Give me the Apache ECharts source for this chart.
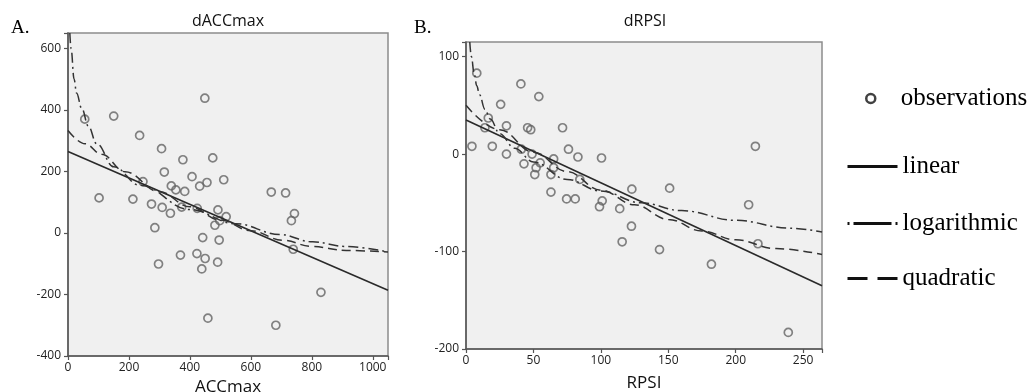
<!DOCTYPE html>
<html><head><meta charset="utf-8">
<script src="https://cdn.jsdelivr.net/npm/echarts@6/dist/echarts.min.js"></script>
<style>html,body{margin:0;padding:0;background:#fff}#c{width:1029px;height:392px}</style>
</head><body><div id="c"></div><script>
// ---- Data ----
const panelTitles = ['dACCmax', 'dRPSI'];
const panelLetters = ['A.', 'B.'];
const axisNames = ['ACCmax', 'RPSI'];
const legendNames = ['observations', 'linear', 'logarithmic', 'quadratic'];

const obsA = [[55,370],[150,380],[235,317],[307,274],[449,438],[377,238],[475,244],[316,198],[407,183],[511,173],
  [456,164],[432,152],[339,153],[354,140],[383,135],[246,167],[667,133],[714,130],[102,114],[213,110],
  [274,94],[309,83],[336,64],[373,84],[424,80],[492,75],[519,53],[482,25],[498,40],[743,63],
  [733,40],[285,17],[442,-15],[496,-23],[297,-101],[369,-72],[423,-67],[450,-83],[439,-117],[491,-95],
  [459,-277],[682,-300],[830,-193],[739,-53]];
const linearA = [[0,265],[1050,-186]];
const logA = [[6,650],[10,600],[20,500],[28,455],[45,405],[67,347],[94,290],[150,215],[236,155],[400,76],[550,30],[695,-5],[803,-29],[913,-44],[1050,-62]];
const quadA = [[0,333],[56,290],[110,256],[187,199],[300,134],[400,85],[500,42],[600,7],[706,-24],[800,-44],[913,-57],[1050,-62]];

const obsB = [[8,83],[4.4,8],[19.5,8],[30,0],[14,27],[16.5,37],[25.7,51],[30,29],[40.7,72],[54,59],
  [45.7,27],[48,25],[71.6,27],[41,5],[76,5],[83,-3],[100.5,-4],[49,0],[65,-5],[43,-10],
  [55,-9],[52,-14],[51,-21],[65,-14],[63,-21],[84.4,-26],[123,-36],[151,-35],[214.6,8],[63,-39],
  [74.6,-46],[81,-46],[101,-48],[99,-54],[114,-56],[122.7,-74],[115.8,-90],[143.5,-98],[182,-113],[209.6,-52],
  [216.5,-92],[239,-183]];
const linearB = [[0,35],[264,-135]];
const logB = [[2.8,115],[4,100],[6,83],[8,70],[10,61],[14,46],[18,36],[25,21],[36,6],[50,-8],[75,-26],[100,-38],[130,-50],[160,-58],[200,-68],[240,-76],[264,-80]];
const quadB = [[0,50],[25,25],[50,2],[75,-18],[100,-37],[125,-52],[150,-67],[175,-79],[200,-88],[230,-97],[264,-103]];

const xTicks = [{min:0,max:1050,interval:200},{min:0,max:264,interval:50}];
const yTicks = [{min:-400,max:650,interval:200},{min:-200,max:115,interval:100}];

// ---- Chart ----
const chart = echarts.init(document.getElementById('c'), null, {renderer:'canvas'});
const sans = 'Open Sans';
const serif = 'Liberation Serif';
const grids = [
  {left:68, top:33, width:320, height:323},
  {left:466, top:42, width:356, height:307}
];
const nameGaps = [20, 26];

function axisCommon(t) {
  return {
    type:'value', min:t.min, max:t.max, interval:t.interval,
    axisLine:{show:true, onZero:false, lineStyle:{color:'#555', width:1.5}},
    axisTick:{show:true, length:4, lineStyle:{color:'#555', width:1.2}},
    splitLine:{show:false},
    axisLabel:{color:'#222', fontFamily:sans, fontSize:12,
      formatter: v => (Math.abs((v - t.min) % t.interval) < 1e-6 ? String(v) : '')}
  };
}

const xAxis = xTicks.map((t,i) => Object.assign(axisCommon(t), {
  gridIndex:i, name:axisNames[i], nameLocation:'middle', nameGap:nameGaps[i],
  nameTextStyle:{fontFamily:sans, fontSize:17, color:'#111'},
  axisLabel:Object.assign(axisCommon(t).axisLabel, {margin:6})
}));
const yAxis = yTicks.map((t,i) => Object.assign(axisCommon(t), {
  gridIndex:i, axisLabel:Object.assign(axisCommon(t).axisLabel, {margin:7})
}));

function panelSeries(i, obs, lin, log, quad) {
  return [
    {type:'scatter', name:legendNames[0], xAxisIndex:i, yAxisIndex:i, data:obs,
      symbol:'circle', symbolSize:8, z:2,
      itemStyle:{color:'rgba(0,0,0,0)', borderColor:'#646464', borderWidth:1.7}},
    {type:'line', name:legendNames[1], xAxisIndex:i, yAxisIndex:i, data:lin, symbol:'none', z:3,
      lineStyle:{color:'#2a2a2a', width:1.6}},
    {type:'line', name:legendNames[2], xAxisIndex:i, yAxisIndex:i, data:log, symbol:'none', z:3,
      smooth:0.4, smoothMonotone:'x', lineStyle:{color:'#333', width:1.5, type:[10,4,2,4]}},
    {type:'line', name:legendNames[3], xAxisIndex:i, yAxisIndex:i, data:quad, symbol:'none', z:3,
      smooth:0.4, smoothMonotone:'x', lineStyle:{color:'#333', width:1.5, type:[9,5]}}
  ];
}

const legendTops = [86, 154, 211, 266];
const legendLefts = [865, 846, 846, 846];
const legendDash = [null, 'solid', [2,4,38,4,2], [20,10]];
const legends = legendNames.map((n,i) => ({
  orient:'vertical', left:legendLefts[i], top:legendTops[i], padding:0,
  itemWidth:50, itemHeight: i === 0 ? 9 : 14, selectedMode:false,
  textStyle:{fontFamily:serif, fontSize:25, color:'#000'},
  data:[ i === 0
    ? {name:n, icon:'circle', itemStyle:{color:'#fff', borderColor:'#111', borderWidth:2.5}}
    : {name:n, itemStyle:{color:'rgba(0,0,0,0)', borderWidth:0},
       lineStyle:{color:'#111', width:3, type:legendDash[i]}} ]
}));

const option = {
  backgroundColor:'#fff',
  animation:false,
  title:[
    {text:panelTitles[0], left:228, top:13, textAlign:'center', padding:0,
      textStyle:{fontFamily:sans, fontSize:16, fontWeight:'normal', color:'#111'}},
    {text:panelTitles[1], left:645, top:13, textAlign:'center', padding:0,
      textStyle:{fontFamily:sans, fontSize:16, fontWeight:'normal', color:'#111'}},
    {text:panelLetters[0], left:11, top:19, padding:0,
      textStyle:{fontFamily:serif, fontSize:19, fontWeight:'normal', color:'#000'}},
    {text:panelLetters[1], left:414, top:19, padding:0,
      textStyle:{fontFamily:serif, fontSize:19, fontWeight:'normal', color:'#000'}}
  ],
  legend: legends,
  grid: grids.map(g => Object.assign({show:true, backgroundColor:'#f0f0f0', borderColor:'#8c8c8c', borderWidth:1.5, containLabel:false, outerBoundsMode:'none'}, g)),
  xAxis, yAxis,
  series:[].concat(panelSeries(0, obsA, linearA, logA, quadA), panelSeries(1, obsB, linearB, logB, quadB))
};
chart.setOption(option);
</script></body></html>
